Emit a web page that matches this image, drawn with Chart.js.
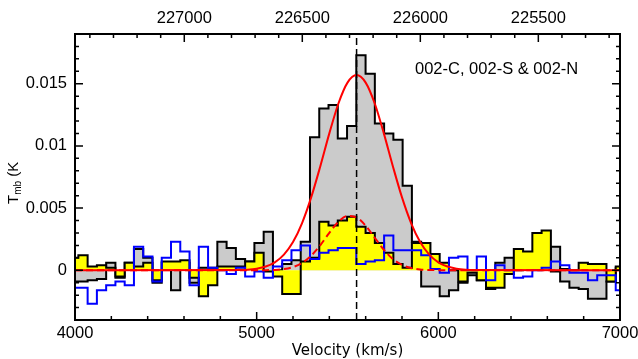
<!DOCTYPE html>
<html>
<head>
<meta charset="utf-8">
<script src="https://cdn.jsdelivr.net/npm/chart.js@4"></script>
<style>
  html, body { margin: 0; padding: 0; background: #fff; }
  #wrap { width: 638px; height: 359px; }
</style>
</head>
<body>
<div id="wrap"><canvas id="chart" width="638" height="359"></canvas></div>
<script>
// axis ranges
const velMin = 4000, velMax = 7000;
const freqLeft = 227463, freqRight = 225154;
const tmbMin = -0.004, tmbMax = 0.019;

const velTicks = [4000, 5000, 6000, 7000];
const freqTicks = [227000, 226500, 226000, 225500];
const tmbTicks = [0, 0.005, 0.01, 0.015];
const tmbLabels = ["0", "0.005", "0.01", "0.015"];

// channel grid (km/s)
const binStart = 3967.5;
const binWidth = 51;

// gray spectrum (black outline)
const specC = [
  -0.0009, -0.0009, -0.0008, -0.0007, 0.0006, -0.0006, 0.0006, 0.0017, 0.0010, -0.0010,
  0.0006, -0.0016, 0.0006, -0.0010, 0.0002, 0.0002, 0.0023, 0.0018, 0.0009, 0.0007,
  0.0022, 0.0031, 0.0000, 0.0005, 0.0008, 0.0023, 0.0107, 0.0130, 0.0133, 0.0106,
  0.0116, 0.0173, 0.0158, 0.0118, 0.0110, 0.0105, 0.0068, 0.0023, -0.0013, -0.0013,
  -0.0021, -0.0016, -0.0010, -0.0004, -0.0008, -0.0015, 0.0006, 0.0010, 0.0000, 0.0001,
  0.0004, 0.0008, 0.0019, -0.0009, -0.0014, -0.0015, -0.0023, -0.0023, -0.0009, 0.0002
];
// yellow spectrum
const specS = [
  0.0010, 0.0012, 0.0003, 0.0004, 0.0002, -0.0005, 0.0006, 0.0003, 0.0006, -0.0008,
  0.0007, 0.0007, 0.0008, -0.0006, -0.0021, -0.0012, 0.0003, 0.0003, 0.0003, 0.0007,
  0.0014, -0.0001, -0.0005, -0.0019, -0.0019, 0.0007, 0.0010, 0.0039, 0.0036, 0.0040,
  0.0043, 0.0035, 0.0030, 0.0022, 0.0014, 0.0005, 0.0002, 0.0022, 0.0022, 0.0013,
  0.0006, 0.0000, -0.0009, -0.0002, -0.0008, -0.0014, -0.0014, -0.0003, 0.0017, 0.0015,
  0.0030, 0.0032, -0.0001, 0.0001, 0.0000, 0.0006, 0.0005, 0.0005, -0.0009, 0.0003
];
// blue spectrum
const specN = [
  -0.0014, -0.0014, -0.0027, -0.0016, -0.0012, -0.0009, -0.0012, 0.0019, 0.0011, -0.0009,
  0.0010, 0.0023, 0.0015, -0.0012, 0.0019, 0.0002, 0.0000, -0.0003, 0.0002, -0.0005,
  -0.0001, -0.0006, 0.0003, 0.0008, 0.0016, 0.0020, 0.0009, 0.0014, 0.0016, 0.0018,
  0.0018, 0.0005, 0.0007, 0.0008, 0.0028, 0.0016, 0.0016, 0.0016, 0.0012, 0.0001,
  -0.0002, 0.0010, 0.0011, 0.0000, 0.0011, -0.0008, 0.0004, 0.0000, -0.0006, -0.0005,
  0.0000, 0.0002, 0.0007, 0.0004, -0.0002, -0.0002, -0.0008, -0.0004, -0.0004, -0.0016
];

// gaussian fits
const fitVel = [4000, 4900, 4950, 5000, 5050, 5100, 5150, 5200, 5250, 5300, 5350, 5400, 5450, 5500,
  5550, 5600, 5650, 5700, 5750, 5800, 5850, 5900, 5950, 6000, 6050, 6100, 6150, 6200, 7000];
const fitC = [0, 0.00002, 0.00005, 0.00013, 0.00030, 0.00064, 0.00126, 0.00227, 0.00380, 0.00586,
  0.00835, 0.01101, 0.01341, 0.01509, 0.01570, 0.01509, 0.01341, 0.01101, 0.00835, 0.00586,
  0.00380, 0.00227, 0.00126, 0.00064, 0.00030, 0.00013, 0.00005, 0.00002, 0];
const fitS = [0, 0, 0, 0, 0.00001, 0.00003, 0.00010, 0.00026, 0.00059, 0.00117,
  0.00201, 0.00301, 0.00390, 0.00437, 0.00425, 0.00358, 0.00261, 0.00165, 0.00090, 0.00043,
  0.00018, 0.00006, 0.00002, 0.00001, 0, 0, 0, 0, 0];

const centreVel = 5550;
const labelText = "002-C, 002-S & 002-N";

const sans = "'Liberation Sans', Arial, sans-serif";

function toSteps(values) {
  const pts = values.map((y, i) => ({ x: binStart + i * binWidth, y: y }));
  pts.push({ x: binStart + values.length * binWidth, y: values[values.length - 1] });
  return pts;
}

const framePlugin = {
  id: "frame",
  afterDraw(chart) {
    const { ctx, chartArea: a, scales } = chart;
    ctx.save();
    ctx.strokeStyle = "#000";
    ctx.lineWidth = 2;
    ctx.strokeRect(a.left, a.top, a.right - a.left, a.bottom - a.top);

    ctx.lineWidth = 1.5;
    ctx.beginPath();
    for (let v = velMin; v <= velMax; v += 200) {
      const px = scales.x.getPixelForValue(v);
      const len = v % 1000 === 0 ? 8 : 4;
      ctx.moveTo(px, a.bottom);
      ctx.lineTo(px, a.bottom - len);
    }
    for (let f = 225200; f <= 227400; f += 100) {
      const px = scales.xTop.getPixelForValue(f);
      const len = f % 500 === 0 ? 8 : 4;
      ctx.moveTo(px, a.top);
      ctx.lineTo(px, a.top + len);
    }
    for (let k = -4; k <= 19; k++) {
      const py = scales.y.getPixelForValue(k / 1000);
      const len = k % 5 === 0 ? 8 : 4;
      ctx.moveTo(a.left, py);
      ctx.lineTo(a.left + len, py);
      ctx.moveTo(a.right, py);
      ctx.lineTo(a.right - len, py);
    }
    ctx.stroke();

    // label in the corner
    ctx.fillStyle = "#000";
    ctx.font = "16.5px " + sans;
    ctx.textBaseline = "alphabetic";
    ctx.textAlign = "left";
    ctx.fillText(labelText, 415, 74);

    // y title with subscript
    ctx.translate(18, 204);
    ctx.rotate(-Math.PI / 2);
    ctx.font = "15px " + sans;
    ctx.fillText("T", 0, 0);
    const wT = ctx.measureText("T").width;
    ctx.font = "10px " + sans;
    ctx.fillText("mb", wT, 3);
    const wMb = ctx.measureText("mb").width;
    ctx.font = "15px " + sans;
    ctx.fillText(" (K", wT + wMb, 0);
    ctx.restore();
  }
};

const tickFont = { family: sans, size: 16.5, lineHeight: 1 };

new Chart(document.getElementById("chart"), {
  type: "line",
  data: {
    datasets: [
      {
        label: "002-C",
        data: toSteps(specC),
        stepped: true,
        borderColor: "#000",
        borderWidth: 2,
        backgroundColor: "#cbcbcb",
        fill: "origin",
        pointRadius: 0,
        order: 6
      },
      {
        label: "002-S",
        data: toSteps(specS),
        stepped: true,
        borderColor: "#000",
        borderWidth: 2,
        backgroundColor: "#ffff00",
        fill: "origin",
        pointRadius: 0,
        order: 5
      },
      {
        label: "002-N",
        data: toSteps(specN),
        stepped: true,
        borderColor: "#0000ff",
        borderWidth: 2,
        fill: false,
        pointRadius: 0,
        order: 4
      },
      {
        label: "fit",
        data: fitVel.map((x, i) => ({ x: x, y: fitC[i] })),
        borderColor: "#ff0000",
        borderWidth: 2,
        cubicInterpolationMode: "monotone",
        fill: false,
        pointRadius: 0,
        order: 3
      },
      {
        label: "fit S",
        data: fitVel.map((x, i) => ({ x: x, y: fitS[i] })),
        borderColor: "#ff0000",
        borderWidth: 2,
        borderDash: [7, 4],
        cubicInterpolationMode: "monotone",
        fill: false,
        pointRadius: 0,
        order: 2
      },
      {
        label: "centre",
        data: [{ x: centreVel, y: tmbMin }, { x: centreVel, y: tmbMax }],
        borderColor: "#000",
        borderWidth: 1.5,
        borderDash: [7, 4],
        fill: false,
        pointRadius: 0,
        order: 1
      }
    ]
  },
  options: {
    responsive: false,
    animation: false,
    layout: { padding: { left: 0, right: 18, top: 0, bottom: 0 } },
    plugins: { legend: { display: false }, tooltip: { enabled: false } },
    scales: {
      x: {
        type: "linear",
        position: "bottom",
        min: velMin,
        max: velMax,
        afterBuildTicks: (s) => { s.ticks = velTicks.map(v => ({ value: v })); },
        ticks: { autoSkip: false, maxRotation: 0, padding: 5, color: "#000", font: tickFont,
          callback: (v) => String(v) },
        grid: { display: false, drawTicks: false },
        border: { display: false },
        title: {
          display: true,
          text: "Velocity (km/s)",
          color: "#000",
          font: { family: "'DejaVu Sans', sans-serif", size: 15, lineHeight: 1 },
          padding: { top: 0, bottom: 0 }
        },
        afterFit: (s) => { s.height = 39; s.paddingLeft = 0; s.paddingRight = 0; }
      },
      xTop: {
        type: "linear",
        position: "top",
        min: freqRight,
        max: freqLeft,
        reverse: true,
        afterBuildTicks: (s) => { s.ticks = freqTicks.map(v => ({ value: v })); },
        ticks: { autoSkip: false, maxRotation: 0, padding: 7, color: "#000", font: tickFont,
          callback: (v) => String(v) },
        grid: { display: false, drawTicks: false },
        border: { display: false },
        afterFit: (s) => { s.height = 34; s.paddingLeft = 0; s.paddingRight = 0; }
      },
      y: {
        type: "linear",
        min: tmbMin,
        max: tmbMax,
        afterBuildTicks: (s) => { s.ticks = tmbTicks.map(v => ({ value: v })); },
        ticks: { autoSkip: false, padding: 8, color: "#000", font: tickFont,
          callback: (v) => tmbLabels[tmbTicks.indexOf(v)] },
        grid: { display: false, drawTicks: false },
        border: { display: false },
        afterFit: (s) => { s.width = 75; s.paddingTop = 0; s.paddingBottom = 0; }
      }
    }
  },
  plugins: [framePlugin]
});
</script>
</body>
</html>
